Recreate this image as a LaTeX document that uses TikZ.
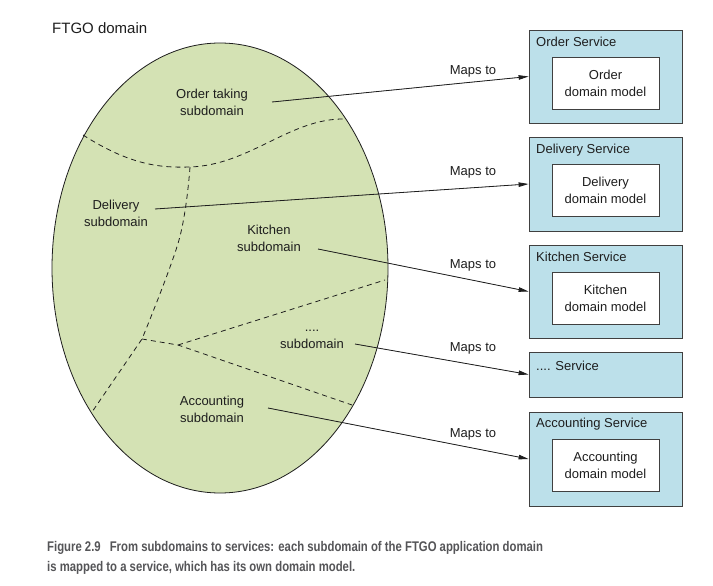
\documentclass[tikz,border=0pt]{standalone}
\usepackage{fontspec}
\setmainfont{Liberation Sans}
\newfontfamily\capfont[FakeStretch=0.81]{Liberation Sans}
\usetikzlibrary{arrows.meta}
\definecolor{domgreen}{RGB}{212,226,180}
\definecolor{svcblue}{RGB}{188,224,234}
\definecolor{capgray}{RGB}{85,85,88}
\definecolor{ink}{RGB}{30,30,30}
\tikzset{
  lbl/.style={font=\fontsize{13}{17}\selectfont, text=ink, align=center, inner sep=0pt},
  svc/.style={draw=ink!85, fill=svcblue, line width=0.8pt, minimum width=153pt, inner sep=0pt},
  model/.style={draw=ink!85, fill=white, line width=0.8pt, minimum width=107pt, minimum height=52pt, align=center, font=\fontsize{13}{17}\selectfont, text=ink, inner sep=0pt},
  svctitle/.style={font=\fontsize{13}{17}\selectfont, text=ink, anchor=west, inner sep=0pt},
  border/.style={dashed, dash pattern=on 5pt off 4pt, line width=0.8pt, draw=ink},
  mapsto/.style={line width=0.8pt, draw=ink, fill=ink, -{Triangle[length=10pt,width=4.5pt]}},
  caption/.style={font=\capfont\bfseries\fontsize{14}{17}\selectfont, text=capgray, anchor=base west, inner sep=0pt}
}
\begin{document}
\begin{tikzpicture}[x=1pt,y=-1pt]
\useasboundingbox (0,0) rectangle (713,586);
\fill[white] (0,0) rectangle (713,586);

% domain
\node[font=\fontsize{15}{18}\selectfont, text=ink, anchor=west, inner sep=0pt] (ftgo) at (52,28) {FTGO domain};
\draw[fill=domgreen, line width=0.8pt, draw=ink] (220,268) ellipse [x radius=168, y radius=225];

% subdomain borders
\draw[border] (83,135) .. controls (130,165) and (160,168) .. (190,167)
  .. controls (250,165) and (290,118) .. (345,119);
\draw[border] plot[smooth, tension=0.6] coordinates {(190,167) (179,240) (142,339)} -- (92,412);
\draw[border] (142,339) -- (178,345) -- (352,405);
\draw[border] (178,345) -- (385,280);

% subdomain labels
\node[lbl] (order) at (212,102) {Order taking\\subdomain};
\node[lbl] (delivery) at (116,213) {Delivery\\subdomain};
\node[lbl] (kitchen) at (269,238) {Kitchen\\subdomain};
\node[lbl] (other) at (312,339) {....\\subdomain};
\node[lbl] (accounting) at (212,409) {Accounting\\subdomain};

\coordinate (s1) at (272,102);
\coordinate (s2) at (155,209);
\coordinate (s3) at (318,249);
\coordinate (s4) at (355,344);
\coordinate (s5) at (268,408);

% services
\node[svc, minimum height=93pt] (osvc) at (605.5,76.5) {};
\node[svctitle] (ot) at (536,42) {Order Service};
\node[model] (om) at (605.5,83) {Order\\domain model};

\node[svc, minimum height=94pt] (dsvc) at (605.5,184) {};
\node[svctitle] (dt) at (536,150) {Delivery Service};
\node[model] (dm) at (605.5,190.5) {Delivery\\domain model};

\node[svc, minimum height=93pt] (ksvc) at (605.5,291.5) {};
\node[svctitle] (kt) at (536,257) {Kitchen Service};
\node[model] (km) at (605.5,298) {Kitchen\\domain model};

\node[svc, minimum height=45pt] (xsvc) at (605.5,374.5) {};
\node[svctitle] (xt) at (536,366) {.... Service};

\node[svc, minimum height=94pt] (asvc) at (605.5,459) {};
\node[svctitle] (at) at (536,424) {Accounting Service};
\node[model] (am) at (605.5,465.5) {Accounting\\domain model};

% connectors
\draw[mapsto] (s1) -- (osvc.west);
\draw[mapsto] (s2) -- (dsvc.west);
\draw[mapsto] (s3) -- (ksvc.west);
\draw[mapsto] (s4) -- (xsvc.west);
\draw[mapsto] (s5) -- (asvc.west);

\node[lbl] (m1) at (473,71) {Maps to};
\node[lbl] (m2) at (473,172) {Maps to};
\node[lbl] (m3) at (473,265) {Maps to};
\node[lbl] (m4) at (473,348) {Maps to};
\node[lbl] (m5) at (473,434) {Maps to};

% caption
\node[caption] (cap1) at (47,551) {Figure 2.9\hspace{9pt}From subdomains to services: each subdomain of the FTGO application domain};
\node[caption] (cap2) at (47,571) {is mapped to a service, which has its own domain model.};
\end{tikzpicture}
\end{document}
